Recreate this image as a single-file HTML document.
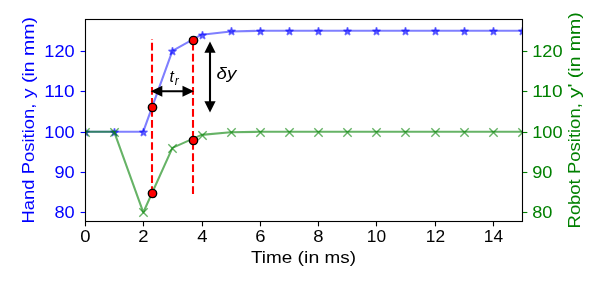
<!DOCTYPE html>
<html><head><meta charset="utf-8"><title>plot</title><style>html,body{margin:0;padding:0;background:#fff;}svg{display:block;will-change:transform;}</style></head><body>
<svg width="607" height="281" viewBox="0 0 607 281">
<defs><clipPath id="ax"><rect x="85" y="19" width="437" height="202"/></clipPath></defs>
<rect width="607" height="281" fill="#fff"/>
<g clip-path="url(#ax)">
<polyline points="85.00,131.67 114.13,131.67 143.27,131.67 172.40,50.87 201.53,34.71 230.67,31.48 259.80,30.83 288.93,30.70 318.07,30.68 347.20,30.67 376.33,30.67 405.47,30.67 434.60,30.67 463.73,30.67 492.87,30.67 522.00,30.67" fill="none" stroke="#0000ff" stroke-opacity="0.5" stroke-width="2.08" stroke-linejoin="round" stroke-linecap="butt"/>
<path d="M85.50,128.33 L84.56,131.21 L81.53,131.21 L83.99,132.99 L83.05,135.87 L85.50,134.09 L87.95,135.87 L87.01,132.99 L89.47,131.21 L86.44,131.21Z" fill="#0000ff" fill-opacity="0.5" stroke="#0000ff" stroke-opacity="0.5" stroke-width="1.39" stroke-linejoin="bevel"/>
<path d="M114.50,128.33 L113.56,131.21 L110.53,131.21 L112.99,132.99 L112.05,135.87 L114.50,134.09 L116.95,135.87 L116.01,132.99 L118.47,131.21 L115.44,131.21Z" fill="#0000ff" fill-opacity="0.5" stroke="#0000ff" stroke-opacity="0.5" stroke-width="1.39" stroke-linejoin="bevel"/>
<path d="M143.50,128.33 L142.56,131.21 L139.53,131.21 L141.99,132.99 L141.05,135.87 L143.50,134.09 L145.95,135.87 L145.01,132.99 L147.47,131.21 L144.44,131.21Z" fill="#0000ff" fill-opacity="0.5" stroke="#0000ff" stroke-opacity="0.5" stroke-width="1.39" stroke-linejoin="bevel"/>
<path d="M172.50,47.33 L171.56,50.21 L168.53,50.21 L170.99,51.99 L170.05,54.87 L172.50,53.09 L174.95,54.87 L174.01,51.99 L176.47,50.21 L173.44,50.21Z" fill="#0000ff" fill-opacity="0.5" stroke="#0000ff" stroke-opacity="0.5" stroke-width="1.39" stroke-linejoin="bevel"/>
<path d="M202.50,31.33 L201.56,34.21 L198.53,34.21 L200.99,35.99 L200.05,38.87 L202.50,37.09 L204.95,38.87 L204.01,35.99 L206.47,34.21 L203.44,34.21Z" fill="#0000ff" fill-opacity="0.5" stroke="#0000ff" stroke-opacity="0.5" stroke-width="1.39" stroke-linejoin="bevel"/>
<path d="M231.50,27.33 L230.56,30.21 L227.53,30.21 L229.99,31.99 L229.05,34.87 L231.50,33.09 L233.95,34.87 L233.01,31.99 L235.47,30.21 L232.44,30.21Z" fill="#0000ff" fill-opacity="0.5" stroke="#0000ff" stroke-opacity="0.5" stroke-width="1.39" stroke-linejoin="bevel"/>
<path d="M260.50,27.33 L259.56,30.21 L256.53,30.21 L258.99,31.99 L258.05,34.87 L260.50,33.09 L262.95,34.87 L262.01,31.99 L264.47,30.21 L261.44,30.21Z" fill="#0000ff" fill-opacity="0.5" stroke="#0000ff" stroke-opacity="0.5" stroke-width="1.39" stroke-linejoin="bevel"/>
<path d="M289.50,27.33 L288.56,30.21 L285.53,30.21 L287.99,31.99 L287.05,34.87 L289.50,33.09 L291.95,34.87 L291.01,31.99 L293.47,30.21 L290.44,30.21Z" fill="#0000ff" fill-opacity="0.5" stroke="#0000ff" stroke-opacity="0.5" stroke-width="1.39" stroke-linejoin="bevel"/>
<path d="M318.50,27.33 L317.56,30.21 L314.53,30.21 L316.99,31.99 L316.05,34.87 L318.50,33.09 L320.95,34.87 L320.01,31.99 L322.47,30.21 L319.44,30.21Z" fill="#0000ff" fill-opacity="0.5" stroke="#0000ff" stroke-opacity="0.5" stroke-width="1.39" stroke-linejoin="bevel"/>
<path d="M347.50,27.33 L346.56,30.21 L343.53,30.21 L345.99,31.99 L345.05,34.87 L347.50,33.09 L349.95,34.87 L349.01,31.99 L351.47,30.21 L348.44,30.21Z" fill="#0000ff" fill-opacity="0.5" stroke="#0000ff" stroke-opacity="0.5" stroke-width="1.39" stroke-linejoin="bevel"/>
<path d="M376.50,27.33 L375.56,30.21 L372.53,30.21 L374.99,31.99 L374.05,34.87 L376.50,33.09 L378.95,34.87 L378.01,31.99 L380.47,30.21 L377.44,30.21Z" fill="#0000ff" fill-opacity="0.5" stroke="#0000ff" stroke-opacity="0.5" stroke-width="1.39" stroke-linejoin="bevel"/>
<path d="M405.50,27.33 L404.56,30.21 L401.53,30.21 L403.99,31.99 L403.05,34.87 L405.50,33.09 L407.95,34.87 L407.01,31.99 L409.47,30.21 L406.44,30.21Z" fill="#0000ff" fill-opacity="0.5" stroke="#0000ff" stroke-opacity="0.5" stroke-width="1.39" stroke-linejoin="bevel"/>
<path d="M435.50,27.33 L434.56,30.21 L431.53,30.21 L433.99,31.99 L433.05,34.87 L435.50,33.09 L437.95,34.87 L437.01,31.99 L439.47,30.21 L436.44,30.21Z" fill="#0000ff" fill-opacity="0.5" stroke="#0000ff" stroke-opacity="0.5" stroke-width="1.39" stroke-linejoin="bevel"/>
<path d="M464.50,27.33 L463.56,30.21 L460.53,30.21 L462.99,31.99 L462.05,34.87 L464.50,33.09 L466.95,34.87 L466.01,31.99 L468.47,30.21 L465.44,30.21Z" fill="#0000ff" fill-opacity="0.5" stroke="#0000ff" stroke-opacity="0.5" stroke-width="1.39" stroke-linejoin="bevel"/>
<path d="M493.50,27.33 L492.56,30.21 L489.53,30.21 L491.99,31.99 L491.05,34.87 L493.50,33.09 L495.95,34.87 L495.01,31.99 L497.47,30.21 L494.44,30.21Z" fill="#0000ff" fill-opacity="0.5" stroke="#0000ff" stroke-opacity="0.5" stroke-width="1.39" stroke-linejoin="bevel"/>
<path d="M522.50,27.33 L521.56,30.21 L518.53,30.21 L520.99,31.99 L520.05,34.87 L522.50,33.09 L524.95,34.87 L524.01,31.99 L526.47,30.21 L523.44,30.21Z" fill="#0000ff" fill-opacity="0.5" stroke="#0000ff" stroke-opacity="0.5" stroke-width="1.39" stroke-linejoin="bevel"/>
</g>
<line x1="80.64" y1="212.50" x2="85.50" y2="212.50" stroke="#0000ff" stroke-width="1.11"/>
<line x1="80.64" y1="172.50" x2="85.50" y2="172.50" stroke="#0000ff" stroke-width="1.11"/>
<line x1="80.64" y1="132.50" x2="85.50" y2="132.50" stroke="#0000ff" stroke-width="1.11"/>
<line x1="80.64" y1="91.50" x2="85.50" y2="91.50" stroke="#0000ff" stroke-width="1.11"/>
<line x1="80.64" y1="51.50" x2="85.50" y2="51.50" stroke="#0000ff" stroke-width="1.11"/>
<line x1="85.50" y1="221.50" x2="85.50" y2="226.36" stroke="#000" stroke-width="1.11"/>
<line x1="143.50" y1="221.50" x2="143.50" y2="226.36" stroke="#000" stroke-width="1.11"/>
<line x1="202.50" y1="221.50" x2="202.50" y2="226.36" stroke="#000" stroke-width="1.11"/>
<line x1="260.50" y1="221.50" x2="260.50" y2="226.36" stroke="#000" stroke-width="1.11"/>
<line x1="318.50" y1="221.50" x2="318.50" y2="226.36" stroke="#000" stroke-width="1.11"/>
<line x1="376.50" y1="221.50" x2="376.50" y2="226.36" stroke="#000" stroke-width="1.11"/>
<line x1="435.50" y1="221.50" x2="435.50" y2="226.36" stroke="#000" stroke-width="1.11"/>
<line x1="493.50" y1="221.50" x2="493.50" y2="226.36" stroke="#000" stroke-width="1.11"/>
<g clip-path="url(#ax)">
<polyline points="85.00,131.67 114.13,131.67 143.27,212.47 172.40,147.83 201.53,134.90 230.67,132.32 259.80,131.80 288.93,131.70 318.07,131.68 347.20,131.67 376.33,131.67 405.47,131.67 434.60,131.67 463.73,131.67 492.87,131.67 522.00,131.67" fill="none" stroke="#008000" stroke-opacity="0.6" stroke-width="2.08" stroke-linejoin="round"/>
<path d="M81.33,128.33 L89.67,136.67 M81.33,136.67 L89.67,128.33" stroke="#008000" stroke-opacity="0.6" stroke-width="1.39" fill="none"/>
<path d="M110.33,128.33 L118.67,136.67 M110.33,136.67 L118.67,128.33" stroke="#008000" stroke-opacity="0.6" stroke-width="1.39" fill="none"/>
<path d="M139.33,208.33 L147.67,216.67 M139.33,216.67 L147.67,208.33" stroke="#008000" stroke-opacity="0.6" stroke-width="1.39" fill="none"/>
<path d="M168.33,144.33 L176.67,152.67 M168.33,152.67 L176.67,144.33" stroke="#008000" stroke-opacity="0.6" stroke-width="1.39" fill="none"/>
<path d="M198.33,131.33 L206.67,139.67 M198.33,139.67 L206.67,131.33" stroke="#008000" stroke-opacity="0.6" stroke-width="1.39" fill="none"/>
<path d="M227.33,128.33 L235.67,136.67 M227.33,136.67 L235.67,128.33" stroke="#008000" stroke-opacity="0.6" stroke-width="1.39" fill="none"/>
<path d="M256.33,128.33 L264.67,136.67 M256.33,136.67 L264.67,128.33" stroke="#008000" stroke-opacity="0.6" stroke-width="1.39" fill="none"/>
<path d="M285.33,128.33 L293.67,136.67 M285.33,136.67 L293.67,128.33" stroke="#008000" stroke-opacity="0.6" stroke-width="1.39" fill="none"/>
<path d="M314.33,128.33 L322.67,136.67 M314.33,136.67 L322.67,128.33" stroke="#008000" stroke-opacity="0.6" stroke-width="1.39" fill="none"/>
<path d="M343.33,128.33 L351.67,136.67 M343.33,136.67 L351.67,128.33" stroke="#008000" stroke-opacity="0.6" stroke-width="1.39" fill="none"/>
<path d="M372.33,128.33 L380.67,136.67 M372.33,136.67 L380.67,128.33" stroke="#008000" stroke-opacity="0.6" stroke-width="1.39" fill="none"/>
<path d="M401.33,128.33 L409.67,136.67 M401.33,136.67 L409.67,128.33" stroke="#008000" stroke-opacity="0.6" stroke-width="1.39" fill="none"/>
<path d="M431.33,128.33 L439.67,136.67 M431.33,136.67 L439.67,128.33" stroke="#008000" stroke-opacity="0.6" stroke-width="1.39" fill="none"/>
<path d="M460.33,128.33 L468.67,136.67 M460.33,136.67 L468.67,128.33" stroke="#008000" stroke-opacity="0.6" stroke-width="1.39" fill="none"/>
<path d="M489.33,128.33 L497.67,136.67 M489.33,136.67 L497.67,128.33" stroke="#008000" stroke-opacity="0.6" stroke-width="1.39" fill="none"/>
<path d="M518.33,128.33 L526.67,136.67 M518.33,136.67 L526.67,128.33" stroke="#008000" stroke-opacity="0.6" stroke-width="1.39" fill="none"/>
</g>
<line x1="152.00" y1="194.00" x2="152.00" y2="39.00" stroke="#ff0000" stroke-width="2.08" stroke-dasharray="7.71 3.33"/>
<line x1="193.00" y1="194.00" x2="193.00" y2="39.00" stroke="#ff0000" stroke-width="2.08" stroke-dasharray="7.71 3.33"/>
<circle cx="152.50" cy="107.50" r="4.17" fill="#ff0000" stroke="#000" stroke-width="1.39"/>
<circle cx="193.50" cy="40.50" r="4.17" fill="#ff0000" stroke="#000" stroke-width="1.39"/>
<circle cx="152.50" cy="193.50" r="4.17" fill="#ff0000" stroke="#000" stroke-width="1.39"/>
<circle cx="193.50" cy="140.50" r="4.17" fill="#ff0000" stroke="#000" stroke-width="1.39"/>
<line x1="156.70" y1="91.27" x2="188.10" y2="91.27" stroke="#000" stroke-width="2.08"/>
<path d="M150.70,91.27 L162.30,85.77 L162.30,96.77 Z" fill="#000"/>
<path d="M194.10,91.27 L182.50,85.77 L182.50,96.77 Z" fill="#000"/>
<line x1="210.00" y1="47.60" x2="210.00" y2="106.40" stroke="#000" stroke-width="2.08"/>
<path d="M210.00,41.60 L204.40,52.70 L215.60,52.70 Z" fill="#000"/>
<path d="M210.00,112.40 L204.40,101.30 L215.60,101.30 Z" fill="#000"/>
<line x1="522.50" y1="212.50" x2="527.36" y2="212.50" stroke="#008000" stroke-width="1.11"/>
<line x1="522.50" y1="172.50" x2="527.36" y2="172.50" stroke="#008000" stroke-width="1.11"/>
<line x1="522.50" y1="132.50" x2="527.36" y2="132.50" stroke="#008000" stroke-width="1.11"/>
<line x1="522.50" y1="91.50" x2="527.36" y2="91.50" stroke="#008000" stroke-width="1.11"/>
<line x1="522.50" y1="51.50" x2="527.36" y2="51.50" stroke="#008000" stroke-width="1.11"/>
<rect x="85.50" y="19.50" width="437.00" height="202.00" fill="none" stroke="#000" stroke-width="1.11" stroke-linejoin="miter"/>
<text x="54.45" y="218.00" font-family="Liberation Sans, sans-serif" font-size="17.00" fill="#0000ff" text-anchor="start" textLength="20.25" lengthAdjust="spacingAndGlyphs" >80</text>
<text x="532.20" y="218.00" font-family="Liberation Sans, sans-serif" font-size="17.00" fill="#008000" text-anchor="start" textLength="20.25" lengthAdjust="spacingAndGlyphs" >80</text>
<text x="54.45" y="178.00" font-family="Liberation Sans, sans-serif" font-size="17.00" fill="#0000ff" text-anchor="start" textLength="20.25" lengthAdjust="spacingAndGlyphs" >90</text>
<text x="532.20" y="178.00" font-family="Liberation Sans, sans-serif" font-size="17.00" fill="#008000" text-anchor="start" textLength="20.25" lengthAdjust="spacingAndGlyphs" >90</text>
<text x="44.32" y="138.00" font-family="Liberation Sans, sans-serif" font-size="17.00" fill="#0000ff" text-anchor="start" textLength="30.38" lengthAdjust="spacingAndGlyphs" >100</text>
<text x="532.20" y="138.00" font-family="Liberation Sans, sans-serif" font-size="17.00" fill="#008000" text-anchor="start" textLength="30.38" lengthAdjust="spacingAndGlyphs" >100</text>
<text x="44.32" y="97.00" font-family="Liberation Sans, sans-serif" font-size="17.00" fill="#0000ff" text-anchor="start" textLength="30.38" lengthAdjust="spacingAndGlyphs" >110</text>
<text x="532.20" y="97.00" font-family="Liberation Sans, sans-serif" font-size="17.00" fill="#008000" text-anchor="start" textLength="30.38" lengthAdjust="spacingAndGlyphs" >110</text>
<text x="44.32" y="57.00" font-family="Liberation Sans, sans-serif" font-size="17.00" fill="#0000ff" text-anchor="start" textLength="30.38" lengthAdjust="spacingAndGlyphs" >120</text>
<text x="532.20" y="57.00" font-family="Liberation Sans, sans-serif" font-size="17.00" fill="#008000" text-anchor="start" textLength="30.38" lengthAdjust="spacingAndGlyphs" >120</text>
<text x="80.26" y="242.00" font-family="Liberation Sans, sans-serif" font-size="17.00" fill="#000" text-anchor="start" textLength="10.29" lengthAdjust="spacingAndGlyphs" >0</text>
<text x="138.26" y="242.00" font-family="Liberation Sans, sans-serif" font-size="17.00" fill="#000" text-anchor="start" textLength="10.29" lengthAdjust="spacingAndGlyphs" >2</text>
<text x="197.26" y="242.00" font-family="Liberation Sans, sans-serif" font-size="17.00" fill="#000" text-anchor="start" textLength="10.29" lengthAdjust="spacingAndGlyphs" >4</text>
<text x="255.26" y="242.00" font-family="Liberation Sans, sans-serif" font-size="17.00" fill="#000" text-anchor="start" textLength="10.29" lengthAdjust="spacingAndGlyphs" >6</text>
<text x="313.26" y="242.00" font-family="Liberation Sans, sans-serif" font-size="17.00" fill="#000" text-anchor="start" textLength="10.29" lengthAdjust="spacingAndGlyphs" >8</text>
<text x="366.75" y="242.00" font-family="Liberation Sans, sans-serif" font-size="17.00" fill="#000" text-anchor="start" textLength="19.30" lengthAdjust="spacingAndGlyphs" >10</text>
<text x="425.75" y="242.00" font-family="Liberation Sans, sans-serif" font-size="17.00" fill="#000" text-anchor="start" textLength="19.30" lengthAdjust="spacingAndGlyphs" >12</text>
<text x="483.75" y="242.00" font-family="Liberation Sans, sans-serif" font-size="17.00" fill="#000" text-anchor="start" textLength="19.30" lengthAdjust="spacingAndGlyphs" >14</text>
<text x="250.99" y="263.30" font-family="Liberation Sans, sans-serif" font-size="17.00" fill="#000" text-anchor="start" textLength="41.30" lengthAdjust="spacingAndGlyphs" >Time</text>
<text x="297.59" y="263.30" font-family="Liberation Sans, sans-serif" font-size="17.00" fill="#000" text-anchor="start" textLength="21.70" lengthAdjust="spacingAndGlyphs" >(in</text>
<text x="324.59" y="263.30" font-family="Liberation Sans, sans-serif" font-size="17.00" fill="#000" text-anchor="start" textLength="31.42" lengthAdjust="spacingAndGlyphs" >ms)</text>
<g transform="translate(33.6,223.50) rotate(-90)">
<text x="0.00" y="0.00" font-family="Liberation Sans, sans-serif" font-size="17.00" fill="#0000ff" text-anchor="start" textLength="43.89" lengthAdjust="spacingAndGlyphs" >Hand</text>
<text x="49.19" y="0.00" font-family="Liberation Sans, sans-serif" font-size="17.00" fill="#0000ff" text-anchor="start" textLength="70.79" lengthAdjust="spacingAndGlyphs" >Position,</text>
<text x="125.27" y="0.00" font-family="Liberation Sans, sans-serif" font-size="17.00" fill="#0000ff" text-anchor="start" textLength="9.86" lengthAdjust="spacingAndGlyphs" >y</text>
<text x="140.43" y="0.00" font-family="Liberation Sans, sans-serif" font-size="17.00" fill="#0000ff" text-anchor="start" textLength="21.70" lengthAdjust="spacingAndGlyphs" >(in</text>
<text x="167.43" y="0.00" font-family="Liberation Sans, sans-serif" font-size="17.00" fill="#0000ff" text-anchor="start" textLength="38.97" lengthAdjust="spacingAndGlyphs" >mm)</text>
</g>
<g transform="translate(579.7,228.39) rotate(-90)">
<text x="0.00" y="0.00" font-family="Liberation Sans, sans-serif" font-size="17.00" fill="#008000" text-anchor="start" textLength="49.09" lengthAdjust="spacingAndGlyphs" >Robot</text>
<text x="54.39" y="0.00" font-family="Liberation Sans, sans-serif" font-size="17.00" fill="#008000" text-anchor="start" textLength="70.79" lengthAdjust="spacingAndGlyphs" >Position,</text>
<text x="130.47" y="0.00" font-family="Liberation Sans, sans-serif" font-size="17.00" fill="#008000" text-anchor="start" textLength="14.45" lengthAdjust="spacingAndGlyphs" >y'</text>
<text x="150.21" y="0.00" font-family="Liberation Sans, sans-serif" font-size="17.00" fill="#008000" text-anchor="start" textLength="21.70" lengthAdjust="spacingAndGlyphs" >(in</text>
<text x="177.21" y="0.00" font-family="Liberation Sans, sans-serif" font-size="17.00" fill="#008000" text-anchor="start" textLength="38.97" lengthAdjust="spacingAndGlyphs" >mm)</text>
</g>
<text x="169.5" y="82.4" font-family="Liberation Sans, sans-serif" font-style="italic" font-size="15.8" fill="#000">t</text>
<text x="174.8" y="84.6" font-family="Liberation Sans, sans-serif" font-style="italic" font-size="12.0" fill="#000">r</text>
<text x="216.6" y="78.9" font-family="Liberation Sans, sans-serif" font-style="italic" font-size="16.6" fill="#000" textLength="19.7" lengthAdjust="spacingAndGlyphs">δy</text>
</svg>
</body></html>
